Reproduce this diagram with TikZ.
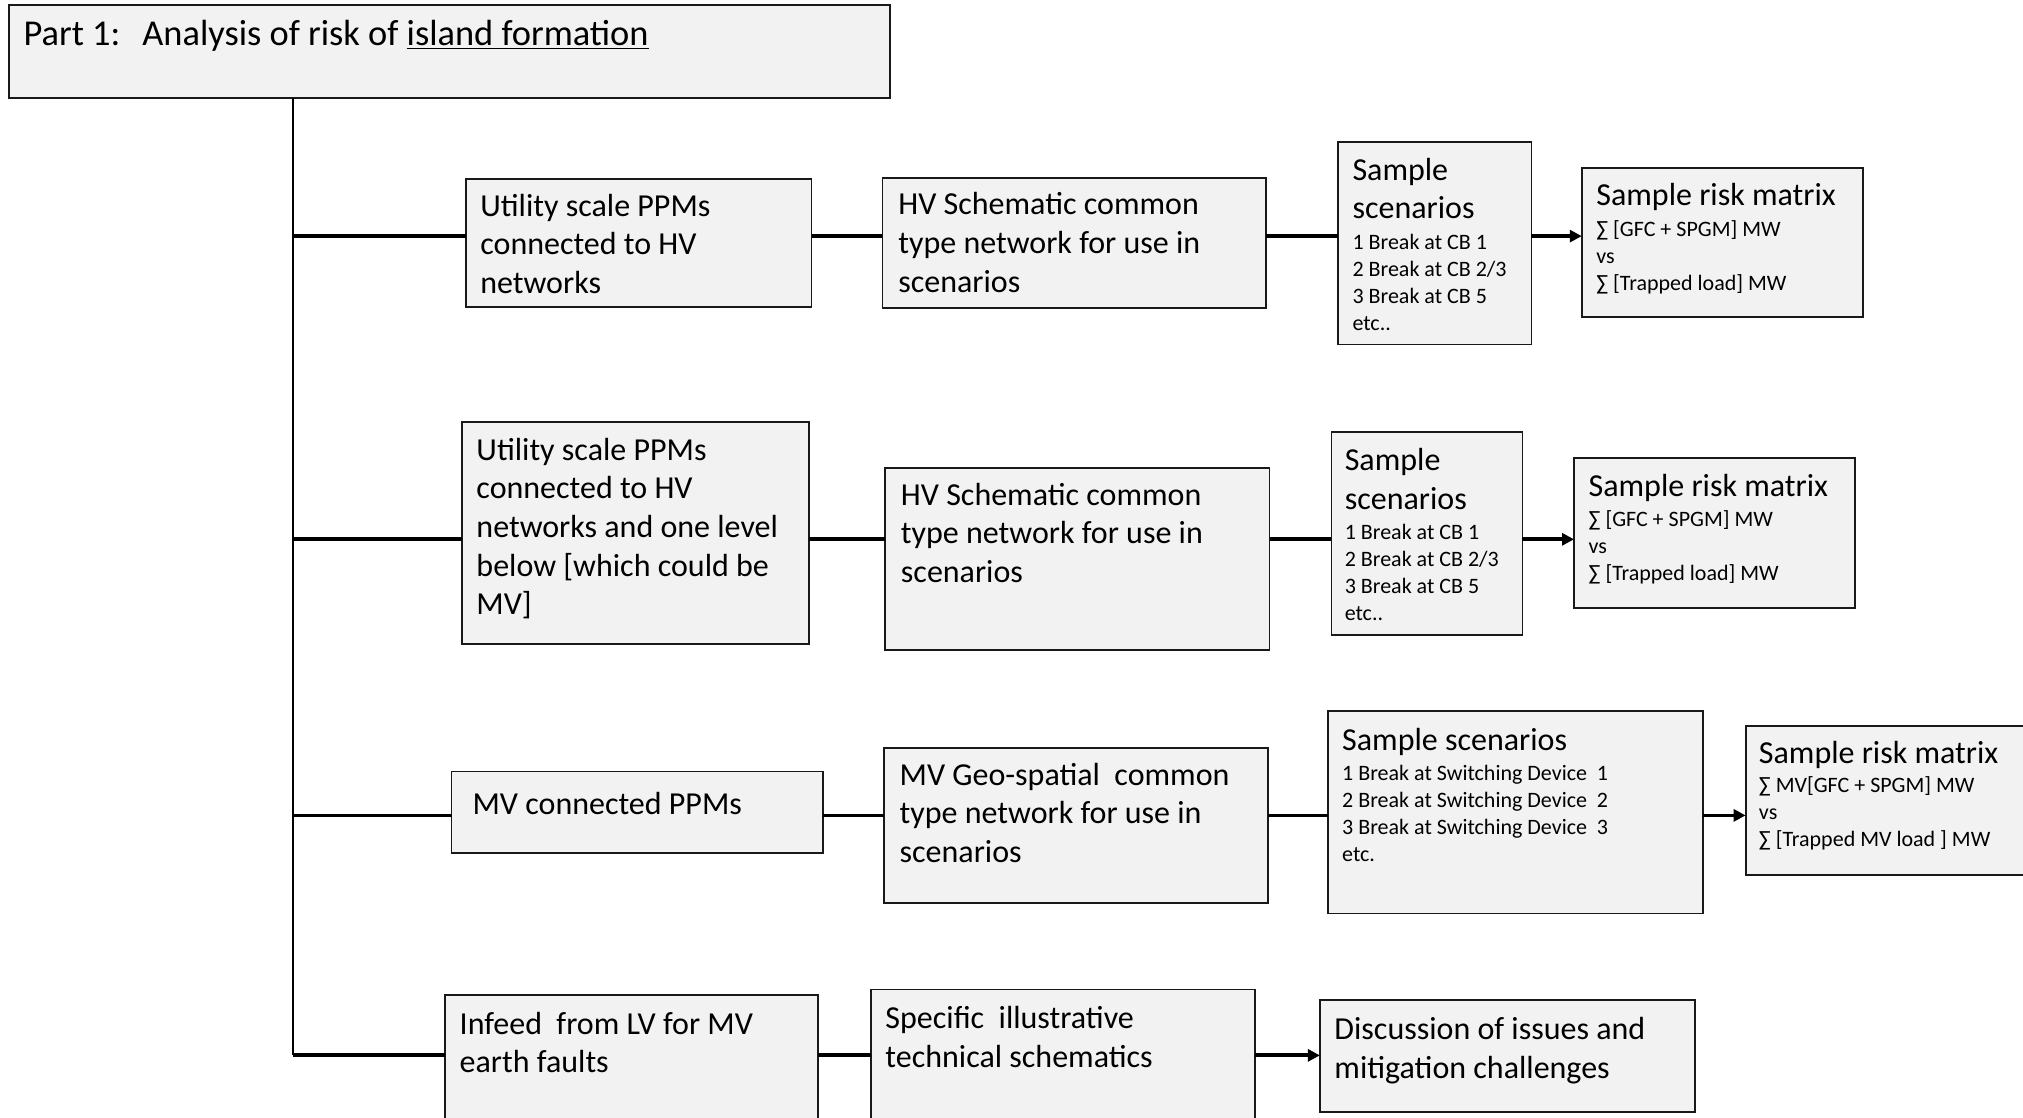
\documentclass[tikz,border=0pt]{standalone}
\usepackage{fontspec}
\setmainfont{Carlito}
\usetikzlibrary{arrows.meta}
\definecolor{boxfill}{HTML}{F2F2F2}
\newcommand\boxnode[5]{\node[box, minimum width={(#4-#2)*0.645pt}, minimum height={(#5-#3)*0.645pt}] (#1) at (#2,#3) {};}
\begin{document}
\begin{tikzpicture}[x=0.645pt,y=-0.645pt,
  box/.style={draw=black!90,line width=0.9pt,fill=boxfill,inner sep=0pt,outer sep=0pt,anchor=north west},
  big/.style={inner sep=0pt,anchor=north west,align=left,yshift=-1.3pt,font=\fontsize{16}{19.35}\selectfont},
  small/.style={inner sep=0pt,anchor=north west,align=left,yshift=-1.0pt,font=\fontsize{11}{13.5}\selectfont},
  conn/.style={line width=1.9pt},
  trunk/.style={line width=1.3pt},
  arr/.style={line width=1.9pt,-{Triangle[length=6pt,width=6pt]}}]
\useasboundingbox (0,0) rectangle (1568,866);
\fill[white] (0,0) rectangle (1568,866);
% title
\boxnode{title}{7}{4}{690}{76}
\node[inner sep=0pt,anchor=base west,font=\fontsize{18.2}{22}\selectfont] (titletext) at (18,35.5) {Part 1:\hspace{11pt}Analysis of risk of \underline{island formation}};
% trunk coordinates
\coordinate (t1) at (227,183);
\coordinate (t2) at (227,418);
\coordinate (t3) at (227,632);
\coordinate (t4) at (227,818);
% row 1
\boxnode{a1}{361}{139}{629}{238}
\node[big] (a1t) at (372,148) {Utility scale PPMs\\connected to HV\\networks};
\boxnode{b1}{684}{138}{981}{239}
\node[big] (b1t) at (696,147) {HV Schematic common\\type network for use in\\scenarios};
\boxnode{c1}{1037}{110}{1187}{267}
\node[big] (c1t) at (1048,120) {Sample\\scenarios};
\node[small] (c1l) at (1048,179.5) {1 Break at CB 1\\2 Break at CB 2/3\\3 Break at CB 5\\etc..};
\boxnode{d1}{1226}{130}{1444}{246}
\node[big] (d1t) at (1237,140) {Sample risk matrix};
\node[small] (d1l) at (1237,169) {∑ [GFC + SPGM] MW\\vs\\∑ [Trapped load] MW};
% row 2
\boxnode{a2}{358}{327}{627}{499}
\node[big] (a2t) at (369,337) {Utility scale PPMs\\connected to HV\\networks and one level\\below [which could be\\MV]};
\boxnode{b2}{686}{363}{984}{504}
\node[big] (b2t) at (698,372) {HV Schematic common\\type network for use in\\scenarios};
\boxnode{c2}{1032}{335}{1180}{492}
\node[big] (c2t) at (1042,345) {Sample\\scenarios};
\node[small] (c2l) at (1042,404.5) {1 Break at CB 1\\2 Break at CB 2/3\\3 Break at CB 5\\etc..};
\boxnode{d2}{1220}{355}{1438}{471}
\node[big] (d2t) at (1231,365) {Sample risk matrix};
\node[small] (d2l) at (1231,394) {∑ [GFC + SPGM] MW\\vs\\∑ [Trapped load] MW};
% row 3
\boxnode{a3}{350}{598}{638}{661}
\node[big] (a3t) at (366,612) {MV connected PPMs};
\boxnode{b3}{685}{580}{983}{700}
\node[big] (b3t) at (697,589) {MV Geo-spatial\ \ common\\type network for use in\\scenarios};
\boxnode{c3}{1029}{551}{1320}{708}
\node[big] (c3t) at (1040,562) {Sample scenarios};
\node[small] (c3l) at (1040,591.5) {1 Break at Switching Device\ \ 1\\2 Break at Switching Device\ \ 2\\3 Break at Switching Device\ \ 3\\etc.};
\boxnode{d3}{1353}{563}{1574}{678}
\node[big] (d3t) at (1363,572) {Sample risk matrix};
\node[small] (d3l) at (1363,600) {∑ MV[GFC + SPGM] MW\\vs\\∑ [Trapped MV load ] MW};
% row 4
\boxnode{a4}{345}{771}{634}{872}
\node[big] (a4t) at (356,782) {Infeed\ \ from LV for MV\\earth faults};
\boxnode{b4}{675}{767}{973}{872}
\node[big] (b4t) at (686,778) {Specific\ \ illustrative\\technical schematics};
\boxnode{c4}{1023}{775}{1314}{862}
\node[big] (c4t) at (1034,786) {Discussion of issues and\\mitigation challenges};
% connectors
\draw[trunk] (title.south -| t1) -- (t4);
\draw[conn] (t1) -- (a1.west |- t1);
\draw[conn] (a1.east |- t1) -- (b1.west |- t1);
\draw[conn] (b1.east |- t1) -- (c1.west |- t1);
\draw[arr] (c1.east |- t1) -- (d1.west |- t1);
\draw[conn] (t2) -- (a2.west |- t2);
\draw[conn] (a2.east |- t2) -- (b2.west |- t2);
\draw[conn] (b2.east |- t2) -- (c2.west |- t2);
\draw[arr] (c2.east |- t2) -- (d2.west |- t2);
\draw[conn] (t3) -- (a3.west |- t3);
\draw[conn] (a3.east |- t3) -- (b3.west |- t3);
\draw[conn] (b3.east |- t3) -- (c3.west |- t3);
\draw[arr] (c3.east |- t3) -- (d3.west |- t3);
\draw[conn] (t4) -- (a4.west |- t4);
\draw[conn] (a4.east |- t4) -- (b4.west |- t4);
\draw[arr] (b4.east |- t4) -- (c4.west |- t4);
\end{tikzpicture}
\end{document}
